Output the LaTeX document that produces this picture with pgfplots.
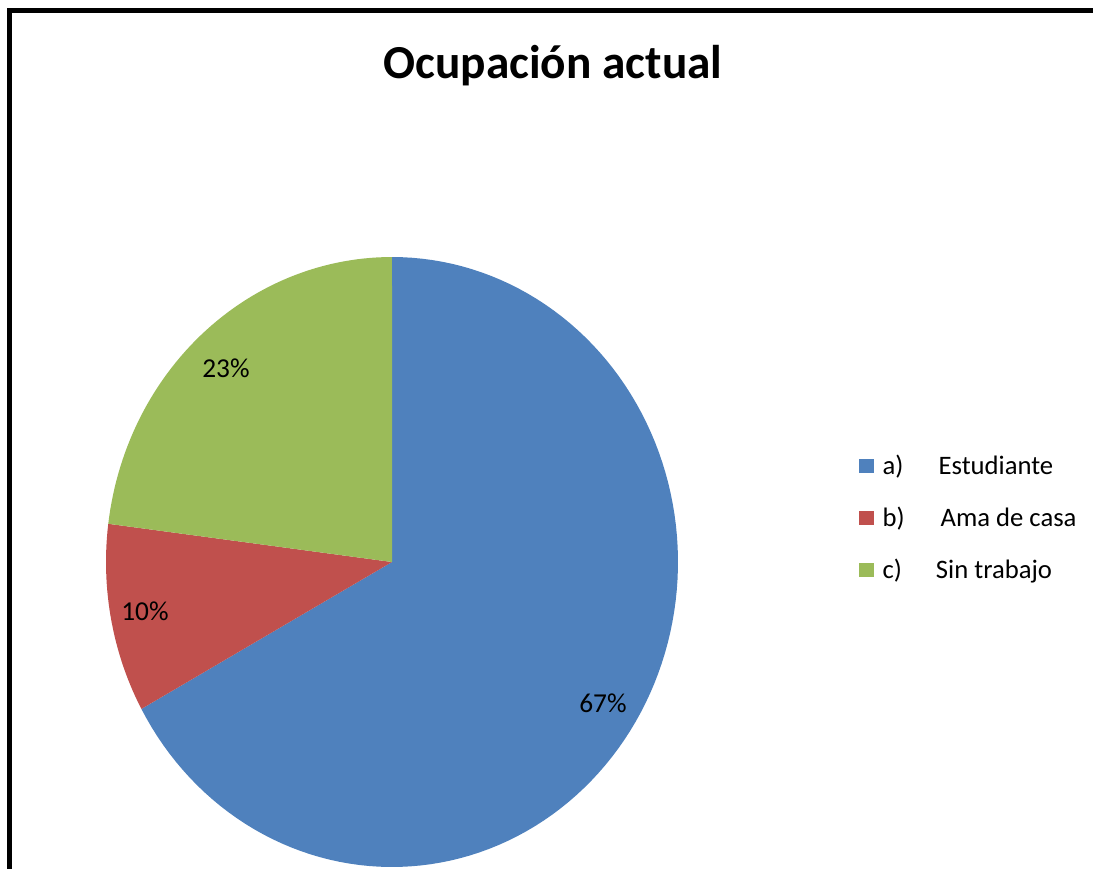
\documentclass[border=0pt]{standalone}
\usepackage{pgfplots}
\pgfplotsset{compat=1.18}
\usepackage{fontspec}
\setmainfont{Carlito}
\definecolor{cblue}{HTML}{4F81BD}
\definecolor{cred}{HTML}{C0504D}
\definecolor{cgreen}{HTML}{9BBB59}
\begin{document}
\begin{tikzpicture}
\begin{axis}[
  at={(0,0)}, anchor=south west,
  width=819.75pt, height=651pt, scale only axis,
  xmin=0, xmax=1093, ymin=0, ymax=868, y dir=reverse,
  enlargelimits=false, hide axis, clip=true,
  legend style={at={(axis cs:859,452)}, anchor=north west, draw=none, fill=none,
    font=\fontsize{20}{24}\selectfont, row sep=19pt, inner sep=0pt,
    /tikz/every odd column/.style={column sep=4.5pt}},
  legend cell align=left,
  legend image code/.code={\path[#1,draw=none] (0pt,-5.3pt) rectangle (11pt,5.3pt);},
]
% values (percent): Estudiante 67, Ama de casa 10, Sin trabajo 23
\addplot[fill=cblue, draw=none, domain=90:90-67*3.6, samples=120]
  ({392+286*cos(x)},{562-305*sin(x)}) -- (axis cs:392,562) -- cycle;
\addlegendentry{\makebox[42pt][l]{a)}Estudiante}
\addplot[fill=cred, draw=none, domain=90-67*3.6:90-77*3.6, samples=30]
  ({392+286*cos(x)},{562-305*sin(x)}) -- (axis cs:392,562) -- cycle;
\addlegendentry{\makebox[43.5pt][l]{b)}Ama de casa}
\addplot[fill=cgreen, draw=none, domain=90-77*3.6:90-100*3.6, samples=60]
  ({392+286*cos(x)},{562-305*sin(x)}) -- (axis cs:392,562) -- cycle;
\addlegendentry{\makebox[40pt][l]{c)}Sin trabajo}
\node[font=\fontsize{20.5}{24}\selectfont] at (axis cs:603,703) {67\%};
\node[font=\fontsize{20.5}{24}\selectfont] at (axis cs:145,611) {10\%};
\node[font=\fontsize{20.5}{24}\selectfont] at (axis cs:226,368) {23\%};
\node[font=\fontsize{35.5}{40}\selectfont\bfseries] at (axis cs:553,66) {Ocupación actual};
\end{axis}
\pgfresetboundingbox
\path[use as bounding box] (0,0) rectangle (819.75pt,651pt);
\begin{scope}
\clip (0,0) rectangle (819.75pt,651pt);
\fill[black] (5.25pt,-2pt) rectangle (9pt,645pt);
\fill[black] (5.25pt,641.25pt) rectangle (830pt,645pt);
\end{scope}
\end{tikzpicture}
\end{document}
